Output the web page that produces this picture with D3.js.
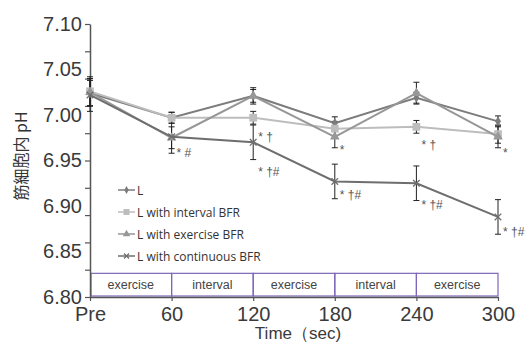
<!DOCTYPE html>
<html>
<head>
<meta charset="utf-8">
<script src="https://cdn.jsdelivr.net/npm/d3@7"></script>
<style>
  html, body { margin: 0; padding: 0; background: #fff; }
  svg { display: block; }
</style>
</head>
<body>
<div id="chart"></div>
<script>
// time points (x categories)
const times = ['Pre', '60', '120', '180', '240', '300'];

// muscle pH
const phL          = [7.024, 6.997, 7.021, 6.991, 7.019, 6.993];
const phInterval   = [7.026, 6.997, 6.997, 6.985, 6.987, 6.979];
const phExercise   = [7.025, 6.975, 7.021, 6.976, 7.024, 6.976];
const phContinuous = [7.022, 6.976, 6.970, 6.927, 6.925, 6.888];

// error bars (SD)
const sdL          = [0.014, 0.006, 0.009, 0.007, 0.006, 0.006];
const sdInterval   = [0.016, 0.006, 0.007, 0.008, 0.007, 0.010];
const sdExercise   = [0.015, 0.012, 0.007, 0.012, 0.012, 0.012];
const sdContinuous = [0.018, 0.018, 0.019, 0.019, 0.019, 0.019];

const seriesNames = ['L', 'L with interval BFR', 'L with exercise BFR', 'L with continuous BFR'];

// y axis
const yLabelValues = [6.80, 6.85, 6.90, 6.95, 7.00, 7.05, 7.10];
const yTickValues = [6.80, 6.83, 6.86, 6.89, 6.92, 6.95, 6.98, 7.01, 7.04, 7.07, 7.10];

// protocol phases under the curves
const phases = ['exercise', 'interval', 'exercise', 'interval', 'exercise'];
const phaseTop = 6.826;

// significance marks
const marks = [
  { t: '60',  v: 6.958, text: '* #' },
  { t: '120', v: 6.976, text: '* †' },
  { t: '120', v: 6.937, text: '* †#' },
  { t: '180', v: 6.962, text: '*' },
  { t: '180', v: 6.912, text: '* †#' },
  { t: '240', v: 6.967, text: '* †' },
  { t: '240', v: 6.901, text: '* †#' },
  { t: '300', v: 6.958, text: '*' },
  { t: '300', v: 6.871, text: '* †#' }
];

const W = 527, H = 343;
const font = '"Liberation Sans", Arial, sans-serif';
const svg = d3.select('#chart').append('svg')
  .attr('width', W).attr('height', H)
  .style('font-family', font);

const x = d3.scalePoint().domain(times).range([90, 498]);
const y = d3.scaleLinear().domain([6.80, 7.10]).range([297, 24]);

const axisColor = '#555';

// phase box
const phaseG = svg.append('g');
phases.forEach((p, i) => {
  const x0 = x(times[i]), x1 = x(times[i + 1]);
  phaseG.append('rect')
    .attr('x', x0 + (i === 0 ? 1 : 0)).attr('y', y(phaseTop))
    .attr('width', x1 - x0 - (i === 0 ? 1 : 0)).attr('height', y(6.80) - y(phaseTop) - 1)
    .attr('fill', 'none').attr('stroke', '#7d66b8').attr('stroke-width', 1.2);
  phaseG.append('text')
    .attr('x', (x0 + x1) / 2).attr('y', (y(phaseTop) + y(6.80)) / 2 + 4)
    .attr('text-anchor', 'middle').attr('font-size', 12.5).attr('fill', '#444')
    .text(p);
});

// x axis
const xAxis = svg.append('g')
  .attr('transform', `translate(0,${y(6.80)})`)
  .call(d3.axisBottom(x).tickSize(4).tickPadding(6).tickSizeOuter(0));
xAxis.select('.domain').attr('stroke', axisColor).attr('stroke-width', 1.5);
xAxis.selectAll('.tick line').attr('stroke', axisColor).attr('stroke-width', 1.2);
xAxis.selectAll('text').attr('font-size', 20).attr('fill', '#3a3a3a')
  .style('font-family', font);

// y axis: ticks
const yAxis = svg.append('g')
  .attr('transform', `translate(${x('Pre')},0)`)
  .call(d3.axisLeft(y).tickValues(yTickValues).tickSize(5).tickSizeOuter(0).tickFormat(''));
yAxis.select('.domain').attr('stroke', axisColor).attr('stroke-width', 1.5);
yAxis.selectAll('.tick line').attr('stroke', axisColor).attr('stroke-width', 1.2);

// y axis: labels
const yLab = svg.append('g')
  .attr('transform', `translate(${x('Pre') - 8},0)`)
  .call(d3.axisLeft(y).tickValues(yLabelValues).tickSize(0).tickPadding(0).tickFormat(d3.format('.2f')));
yLab.select('.domain').remove();
yLab.selectAll('text').attr('font-size', 20).attr('fill', '#3a3a3a')
  .style('font-family', font);

// axis titles
svg.append('text')
  .attr('transform', `translate(27,${y(6.955)}) rotate(-90)`)
  .attr('text-anchor', 'middle').attr('font-size', 16).attr('fill', '#333')
  .style('font-family', '"Noto Sans CJK JP", sans-serif')
  .text('筋細胞内 pH');
svg.append('text')
  .attr('x', 298).attr('y', 339)
  .attr('text-anchor', 'middle').attr('font-size', 17).attr('fill', '#3a3a3a')
  .text('Time（sec)');

// series
const series = [
  { name: seriesNames[0], vals: phL, sd: sdL, color: '#7c7c7c', marker: 'diamond' },
  { name: seriesNames[1], vals: phInterval, sd: sdInterval, color: '#bdbdbd', marker: 'square' },
  { name: seriesNames[2], vals: phExercise, sd: sdExercise, color: '#979797', marker: 'triangle' },
  { name: seriesNames[3], vals: phContinuous, sd: sdContinuous, color: '#6e6e6e', marker: 'cross' }
];

function drawMarker(g, type, cx, cy, color, k) {
  k = k || 1;
  if (type === 'diamond') {
    g.append('path').attr('d', d3.symbol(d3.symbolDiamond, 30 * k)()).attr('transform', `translate(${cx},${cy})`).attr('fill', color);
  } else if (type === 'square') {
    g.append('path').attr('d', d3.symbol(d3.symbolSquare, 60 * k)()).attr('transform', `translate(${cx},${cy})`).attr('fill', color);
  } else if (type === 'triangle') {
    g.append('path').attr('d', d3.symbol(d3.symbolTriangle, 40 * k)()).attr('transform', `translate(${cx},${cy})`).attr('fill', color);
  } else {
    g.append('path').attr('d', d3.symbol(d3.symbolX, 30 * k)()).attr('transform', `translate(${cx},${cy})`)
      .attr('fill', 'none').attr('stroke', color).attr('stroke-width', 1.3);
  }
}

const errG = svg.append('g');
series.forEach(s => {
  s.vals.forEach((v, i) => {
    const cx = x(times[i]);
    const y0 = y(v + s.sd[i]), y1 = y(v - s.sd[i]);
    errG.append('line').attr('x1', cx).attr('x2', cx).attr('y1', y0).attr('y2', y1)
      .attr('stroke', '#222').attr('stroke-width', 1);
    [y0, y1].forEach(yy => errG.append('line')
      .attr('x1', cx - 3).attr('x2', cx + 3).attr('y1', yy).attr('y2', yy)
      .attr('stroke', '#222').attr('stroke-width', 1));
  });
});

const line = d3.line().x((d, i) => x(times[i])).y(d => y(d));
series.forEach(s => {
  const g = svg.append('g');
  g.append('path').datum(s.vals).attr('d', line)
    .attr('fill', 'none').attr('stroke', s.color).attr('stroke-width', 2);
  s.vals.forEach((v, i) => drawMarker(g, s.marker, x(times[i]), y(v), s.color));
});

// significance marks
svg.append('g').selectAll('text').data(marks).join('text')
  .attr('x', d => x(d.t) + 5).attr('y', d => y(d.v) + 4)
  .attr('font-size', 12).attr('fill', '#555')
  .text(d => d.text);

// legend
const leg = svg.append('g').style('font-family', '"Open Sans", sans-serif');
series.forEach((s, i) => {
  const ly = 190 + i * 22;
  leg.append('line').attr('x1', 118).attr('x2', 135).attr('y1', ly).attr('y2', ly)
    .attr('stroke', s.color).attr('stroke-width', 1.5);
  drawMarker(leg, s.marker, 126.5, ly, s.color, 0.6);
  leg.append('text').attr('x', 137).attr('y', ly + 4.5)
    .attr('font-size', 12).attr('fill', '#333').text(s.name);
});
</script>
</body>
</html>
